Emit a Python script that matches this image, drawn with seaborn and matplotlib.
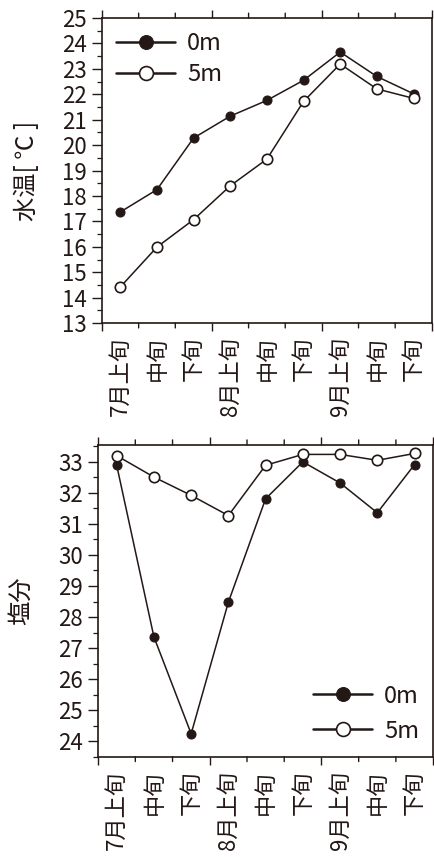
import numpy as np
import matplotlib
matplotlib.use("Agg")
import matplotlib.pyplot as plt
import seaborn as sns
from matplotlib.ticker import MultipleLocator, FixedLocator

# data
periods = ["7月上旬", "中旬", "下旬", "8月上旬", "中旬", "下旬", "9月上旬", "中旬", "下旬"]
temp_0m = [17.37, 18.25, 20.28, 21.14, 21.76, 22.55, 23.66, 22.70, 22.02]
temp_5m = [14.42, 15.99, 17.07, 18.40, 19.45, 21.72, 23.19, 22.21, 21.84]
salt_0m = [32.89, 27.36, 24.24, 28.48, 31.81, 33.00, 32.32, 31.36, 32.91]
salt_5m = [33.20, 32.51, 31.92, 31.27, 32.89, 33.24, 33.24, 33.05, 33.27]

sns.set_style("ticks")
plt.rcParams["font.family"] = ["Noto Sans CJK JP", "DejaVu Sans"]

ink = "#231815"
pos = np.arange(len(periods)) + 0.5

fig = plt.figure(figsize=(4.34, 8.57), dpi=100)
ax1 = fig.add_axes([0.235, 0.623, 0.760, 0.356])
ax2 = fig.add_axes([0.226, 0.117, 0.772, 0.364])


def draw(ax, v0, v5):
    # 0m first so the open 5m circles sit on top
    sns.lineplot(x=pos, y=v0, ax=ax, color=ink, linewidth=1.1, marker="o",
                 markersize=6.5, markerfacecolor=ink, markeredgecolor=ink,
                 label="0m", zorder=3)
    sns.lineplot(x=pos, y=v5, ax=ax, color=ink, linewidth=1.1, marker="o",
                 markersize=7.5, markerfacecolor="white", markeredgecolor=ink,
                 markeredgewidth=1.2, label="5m", zorder=4)


def style(ax, ylabel, labelpad):
    ax.set_xlim(0, 9)
    ax.xaxis.set_major_locator(FixedLocator([0, 3, 6, 9]))
    ax.set_xticks([0, 3, 6, 9], labels=[""] * 4)
    ax.set_xticks(pos, labels=periods, minor=True)
    ax.yaxis.set_minor_locator(MultipleLocator(0.5))
    for sp in ax.spines.values():
        sp.set_visible(True)
        sp.set_color(ink)
        sp.set_linewidth(1.2)
    ax.tick_params(axis="y", which="major", direction="out", length=7, width=1,
                   color=ink, labelcolor=ink, labelsize=16, pad=4)
    ax.tick_params(axis="y", which="minor", direction="out", length=3.5,
                   width=0.9, color=ink)
    ax.tick_params(axis="x", which="major", direction="out", length=5.5, width=1,
                   color=ink, top=True, bottom=True)
    ax.tick_params(axis="x", which="minor", length=0, labelsize=16,
                   labelcolor=ink, pad=10, labelrotation=90)
    ax.set_ylabel(ylabel, fontsize=17.5, color=ink, labelpad=labelpad)
    ax.grid(False)


draw(ax1, temp_0m, temp_5m)
draw(ax2, salt_0m, salt_5m)

style(ax1, "水温[ ℃ ]", 16)
style(ax2, "塩分", 17)

ax1.set_ylim(13, 25)
ax1.yaxis.set_major_locator(MultipleLocator(1))
ax2.set_ylim(23.5, 33.55)
ax2.set_yticks(np.arange(24, 34, 1))

# short ticks at the 旬 boundaries (outward, top and bottom)
for ax in (ax1, ax2):
    for xb in [1, 2, 4, 5, 7, 8]:
        for yb, dy in ((0, -3.5), (1, 3.5)):
            ax.annotate("", xy=(xb, yb), xycoords=ax.get_xaxis_transform(),
                        xytext=(0, dy), textcoords="offset points",
                        arrowprops=dict(arrowstyle="-", color=ink, lw=1,
                                        shrinkA=0, shrinkB=0),
                        annotation_clip=False)

leg1 = ax1.legend(loc="upper left", frameon=False, fontsize=17,
                  handlelength=2.5, handletextpad=0.5, labelspacing=0.35,
                  borderaxespad=0.2)
leg2 = ax2.legend(loc="lower right", frameon=False, fontsize=17,
                  handlelength=2.5, handletextpad=0.5, labelspacing=0.5,
                  borderaxespad=0.2)
for leg in (leg1, leg2):
    for h in leg.legend_handles:
        h.set_markersize(10)
        h.set_linewidth(1.8)
    for t in leg.get_texts():
        t.set_color(ink)

fig.savefig("out.png", dpi=100)
